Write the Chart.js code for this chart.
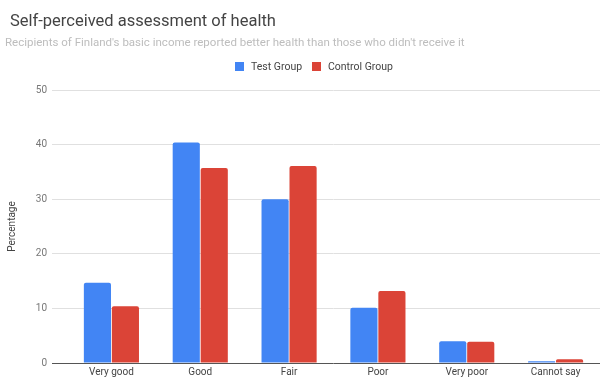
<!DOCTYPE html>
<html>
<head>
<meta charset="utf-8">
<script src="https://cdn.jsdelivr.net/npm/chart.js@4"></script>
<style>
  html, body { margin: 0; padding: 0; background: #fff; overflow: hidden; }
  #wrap { position: relative; width: 600px; height: 390px; font-family: Roboto, Arial, sans-serif; }
  #c { position: absolute; left: 0; top: 0; }
  .title { position: absolute; left: 10px; top: 11px; font-size: 16.5px; line-height: 20px; color: #444; white-space: nowrap; }
  .subtitle { position: absolute; left: 5px; top: 35px; font-size: 11.5px; line-height: 14px; color: #bdbdbd; white-space: nowrap; }
  .legend .item { position: absolute; top: 60px; height: 13px; font-size: 10.5px; color: #444; white-space: nowrap; display: flex; align-items: center; }
  .legend .sw { display: inline-block; width: 9px; height: 9px; margin-right: 7px; }
</style>
</head>
<body>
<div id="wrap">
  <canvas id="c" width="600" height="390"></canvas>
  <div class="title" id="title"></div>
  <div class="subtitle" id="subtitle"></div>
  <div class="legend" id="legend"></div>
</div>
<script>
const titleText = "Self-perceived assessment of health";
const subtitleText = "Recipients of Finland's basic income reported better health than those who didn't receive it";
const categories = ["Very good", "Good", "Fair", "Poor", "Very poor", "Cannot say"];
const seriesNames = ["Test Group", "Control Group"];
const testGroup = [14.7, 40.4, 30.0, 10.1, 4.0, 0.3];
const controlGroup = [10.4, 35.7, 36.1, 13.2, 3.9, 0.7];
const yTicks = [0, 10, 20, 30, 40, 50];
const yAxisTitle = "Percentage";
const colors = ["#4285F4", "#DB4437"];
const legendLeft = [235, 312];

document.getElementById('title').textContent = titleText;
document.getElementById('subtitle').textContent = subtitleText;
const lg = document.getElementById('legend');
seriesNames.forEach((n, i) => {
  const it = document.createElement('div'); it.className = 'item';
  it.style.left = legendLeft[i] + 'px';
  const sw = document.createElement('span'); sw.className = 'sw'; sw.style.background = colors[i];
  const tx = document.createElement('span'); tx.textContent = n;
  it.appendChild(sw); it.appendChild(tx); lg.appendChild(it);
});

new Chart(document.getElementById('c'), {
  type: 'bar',
  data: {
    labels: categories,
    datasets: [
      { label: seriesNames[0], data: testGroup, backgroundColor: colors[0], borderRadius: 2, borderSkipped: 'bottom' },
      { label: seriesNames[1], data: controlGroup, backgroundColor: colors[1], borderRadius: 2, borderSkipped: 'bottom' }
    ]
  },
  options: {
    responsive: false,
    animation: false,
    devicePixelRatio: 1,
    layout: { padding: { top: 90, right: 0, bottom: 9, left: 0 } },
    datasets: { bar: { categoryPercentage: 0.63, barPercentage: 0.97 } },
    plugins: { legend: { display: false }, title: { display: false }, tooltip: { enabled: false } },
    scales: {
      x: {
        grid: { display: false, drawTicks: false, tickLength: 0 },
        border: { display: false },
        ticks: { color: '#444', font: { family: 'Roboto', size: 10 }, padding: 3, maxRotation: 0 }
      },
      y: {
        min: 0, max: 50,
        afterBuildTicks: (s) => { s.ticks = yTicks.map(v => ({ value: v })); },
        afterFit: (s) => { s.width = 67; },
        border: { display: false },
        grid: {
          color: (ctx) => ctx.tick && ctx.tick.value === 0 ? '#555' : '#e0e0e0',
          lineWidth: 1,
          tickLength: 15,
          drawTicks: true
        },
        ticks: { color: '#777', font: { family: 'Roboto', size: 10 }, padding: 5 },
        title: { display: true, text: yAxisTitle, color: '#444', font: { family: 'Roboto', size: 10 }, padding: { top: 6, bottom: 0 } }
      }
    }
  }
});
</script>
</body>
</html>
